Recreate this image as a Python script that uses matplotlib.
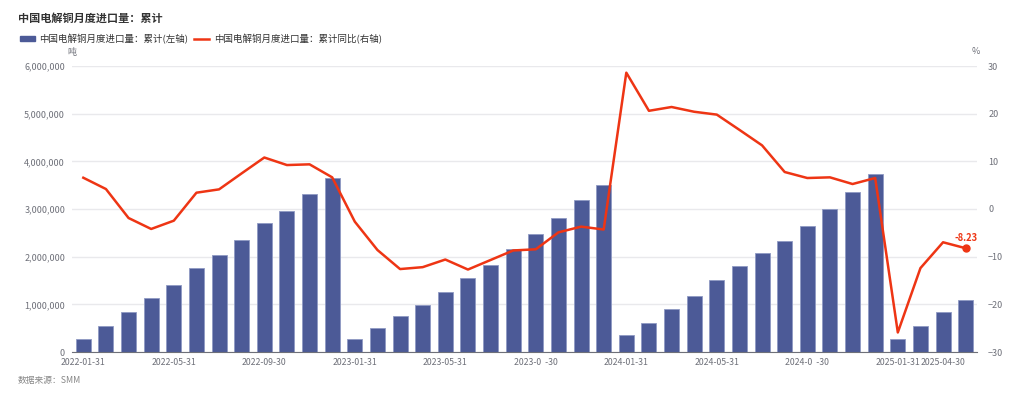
import matplotlib.pyplot as plt
from matplotlib.lines import Line2D
from matplotlib.patches import Patch
from matplotlib.ticker import FuncFormatter

plt.rcParams['font.family'] = ['Noto Sans CJK SC', 'DejaVu Sans']

# cumulative imports (tons), 2022-01 .. 2025-04
imports = [280000, 550000, 845000, 1125000, 1405000, 1770000, 2040000, 2355000,
           2710000, 2955000, 3310000, 3660000,
           270000, 497000, 748000, 985000, 1258000, 1545000, 1824000, 2153000,
           2480000, 2816000, 3193000, 3508000,
           356000, 600000, 900000, 1180000, 1510000, 1797000, 2070000, 2320000,
           2640000, 3000000, 3354000, 3725000,
           266000, 539000, 839000, 1090000]
# cumulative YoY (%)
yoy = [6.56, 4.19, -1.89, -4.19, -2.45, 3.42, 4.12, 7.48, 10.8, 9.22, 9.37, 6.64,
       -2.66, -8.6, -12.6, -12.2, -10.6, -12.7, -10.7, -8.7, -8.45, -4.9, -3.7, -4.3,
       28.6, 20.6, 21.4, 20.4, 19.8, 16.6, 13.35, 7.76, 6.5, 6.64, 5.24, 6.5,
       -25.9, -12.4, -6.98, -8.23]
tick_idx = [0, 4, 8, 12, 16, 20, 24, 28, 32, 36, 39]
tick_labels = ['2022-01-31', '2022-05-31', '2022-09-30', '2023-01-31', '2023-05-31',
               '2023-0  -30', '2024-01-31', '2024-05-31', '2024-0  -30',
               '2025-01-31', '2025-04-30']

bar_color = '#4c5a97'
line_color = '#ee3514'
text_color = '#6e7079'

fig = plt.figure(figsize=(10.24, 3.99), dpi=100)
ax = fig.add_axes([72 / 1024, 1 - 352 / 399, 905 / 1024, 286 / 399])
ax2 = ax.twinx()

x = list(range(len(imports)))
ax.bar(x, imports, width=0.66, color=bar_color, edgecolor='#8f9ac4', linewidth=0.6, zorder=2)
ax.set_xlim(-0.5, len(imports) - 0.5)
ax.set_ylim(0, 6000000)
ax.set_yticks(range(0, 6000001, 1000000))
ax.yaxis.set_major_formatter(FuncFormatter(lambda v, p: f'{int(v):,}'))
ax.grid(axis='y', color='#e9e9ec', linewidth=1, zorder=0)
ax.set_axisbelow(True)

ax2.plot(x, yoy, color=line_color, linewidth=1.8, zorder=3)
ax2.plot(x[-1], yoy[-1], 'o', color=line_color, markersize=5, zorder=4)
ax2.annotate(f'{yoy[-1]:.2f}', (x[-1], yoy[-1]), xytext=(0, 4), textcoords='offset points',
             ha='center', va='bottom', color=line_color, fontsize=6.8, fontweight='bold')
ax2.set_ylim(-30, 30)
ax2.set_yticks(range(-30, 31, 10))

for a in (ax, ax2):
    for s in a.spines.values():
        s.set_visible(False)
    a.tick_params(length=0, colors=text_color, labelsize=6.5)
ax.spines['bottom'].set_visible(True)
ax.spines['bottom'].set_color('#6e7079')
ax.tick_params(axis='y', pad=5)
ax2.tick_params(axis='y', pad=8)

ax.set_xticks(tick_idx)
ax.set_xticklabels(tick_labels)
ax.tick_params(axis='x', pad=4, labelsize=6.3)
ax.get_xticklabels()[-1].set_ha('right')

fig.text(72 / 1024, 1 - 52 / 399, '吨', color=text_color, fontsize=6.5, ha='center', va='center')
fig.text(976 / 1024, 1 - 52 / 399, '%', color=text_color, fontsize=6.5, ha='center', va='center')

fig.text(18 / 1024, 1 - 18 / 399, '中国电解铜月度进口量：累计', fontsize=8, fontweight='bold',
         color='#333333', ha='left', va='center')
handles = [Patch(color=bar_color), Line2D([], [], color=line_color, linewidth=1.8)]
fig.legend(handles, ['中国电解铜月度进口量：累计(左轴)', '中国电解铜月度进口量：累计同比(右轴)'],
           loc='center left', bbox_to_anchor=(11 / 1024, 1 - 39 / 399), ncol=2, frameon=False,
           fontsize=6.8, labelcolor='#333333', handlelength=1.6, handleheight=0.5,
           columnspacing=0.6, handletextpad=0.5)
fig.text(18 / 1024, 1 - 381 / 399, '数据来源：SMM', fontsize=6.3, style='italic',
         color='#888888', ha='left', va='center')

fig.savefig('out.png', dpi=100)
